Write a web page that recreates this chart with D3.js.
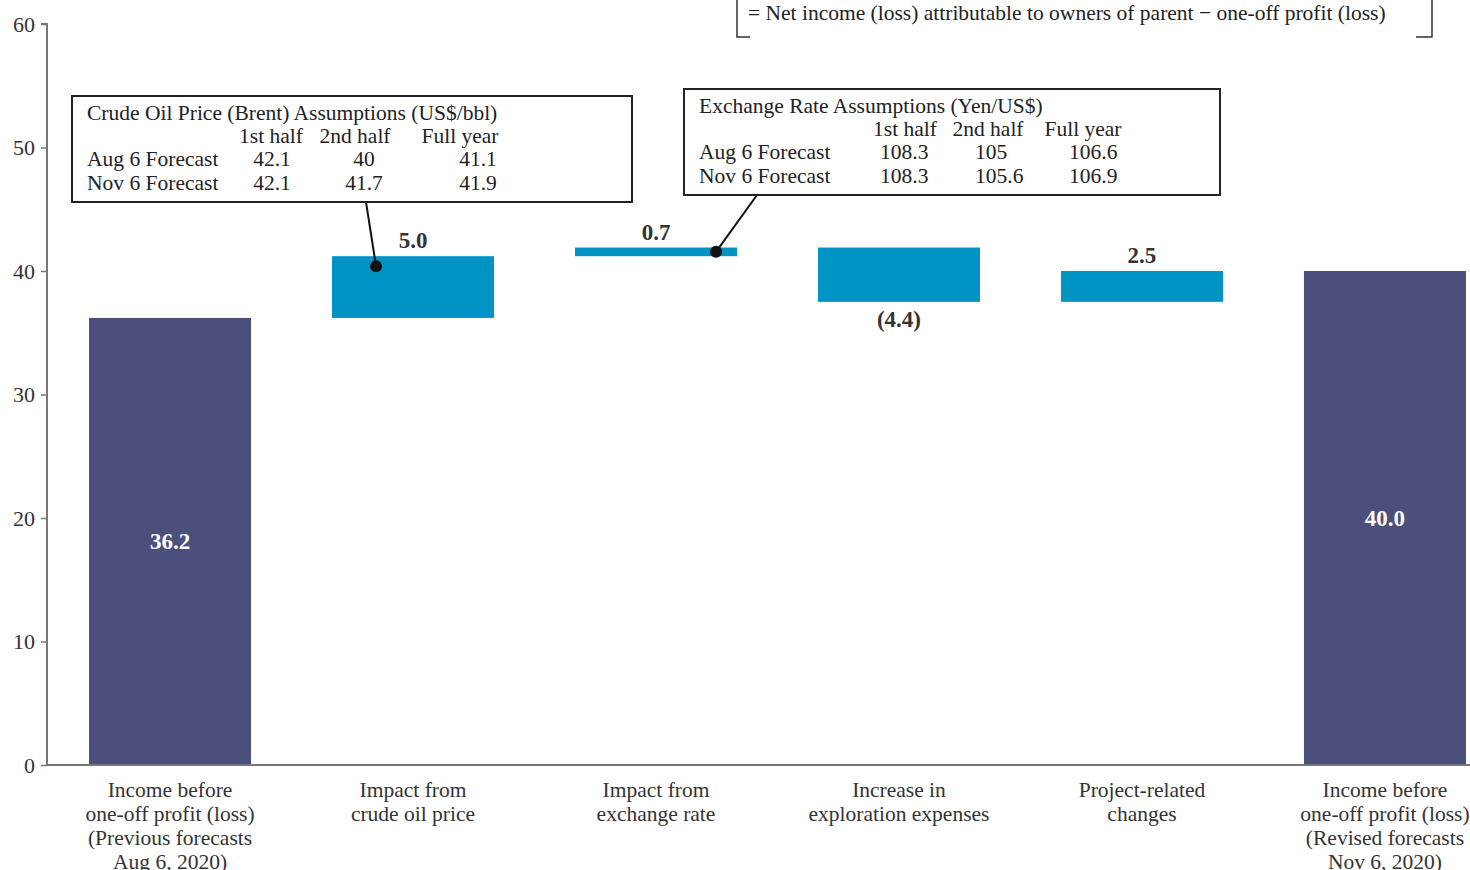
<!DOCTYPE html>
<html>
<head>
<meta charset="utf-8">
<script src="https://cdn.jsdelivr.net/npm/d3@7"></script>
<style>
  html, body { margin: 0; padding: 0; background: #fff; }
  svg { display: block; font-family: "Liberation Serif", "DejaVu Serif", serif; }
</style>
</head>
<body>
<svg id="chart" width="1470" height="870"></svg>
<script>
// Waterfall: income before one-off profit (loss), Aug 6 forecast -> Nov 6 forecast
const categories = [
  ["Income before", "one-off profit (loss)", "(Previous forecasts", "Aug 6, 2020)"],
  ["Impact from", "crude oil price"],
  ["Impact from", "exchange rate"],
  ["Increase in", "exploration expenses"],
  ["Project-related", "changes"],
  ["Income before", "one-off profit (loss)", "(Revised forecasts", "Nov 6, 2020)"]
];
const barKinds = ["total", "delta", "delta", "delta", "delta", "total"];
const values = [36.2, 5.0, 0.7, -4.4, 2.5, 40.0];
const valueLabels = ["36.2", "5.0", "0.7", "(4.4)", "2.5", "40.0"];
const yTicks = [0, 10, 20, 30, 40, 50, 60];

// Assumption tables
const oilTitle = "Crude Oil Price (Brent) Assumptions (US$/bbl)";
const periodHeaders = ["1st half", "2nd half", "Full year"];
const oilRows = ["Aug 6 Forecast", "Nov 6 Forecast"];
const oilValues = [["42.1", "40", "41.1"], ["42.1", "41.7", "41.9"]];
const fxTitle = "Exchange Rate Assumptions (Yen/US$)";
const fxRows = ["Aug 6 Forecast", "Nov 6 Forecast"];
const fxValues = [["108.3", "105", "106.6"], ["108.3", "105.6", "106.9"]];
const formulaNote = "= Net income (loss) attributable to owners of parent \u2212 one-off profit (loss)";

const svg = d3.select("#chart");
const navy = "#4a4f7c";
const blue = "#0094c4";
const textCol = "#333";
const fs = 21.5;

const y = d3.scaleLinear().domain([0, 60]).range([765, 24]);
const x = d3.scaleBand()
  .domain(d3.range(categories.length))
  .range([47, 1508])
  .paddingInner(1 / 3)
  .paddingOuter(0.173);

// running totals for the floating bars
let running = 0;
const bars = values.map((v, i) => {
  let lo, hi;
  if (barKinds[i] === "total") { lo = 0; hi = v; running = v; }
  else { lo = Math.min(running, running + v); hi = Math.max(running, running + v); running += v; }
  return { i, v, lo, hi, kind: barKinds[i], label: valueLabels[i] };
});

// bars
svg.append("g").selectAll("rect").data(bars).join("rect")
  .attr("x", d => x(d.i))
  .attr("width", x.bandwidth())
  .attr("y", d => y(d.hi))
  .attr("height", d => y(d.lo) - y(d.hi))
  .attr("fill", d => d.kind === "total" ? navy : blue);

// value labels
svg.append("g").selectAll("text").data(bars).join("text")
  .attr("x", d => x(d.i) + x.bandwidth() / 2)
  .attr("y", d => {
    if (d.kind === "total") return y(d.hi / 2) + 8;
    return d.v < 0 ? y(d.lo) + 25 : y(d.hi) - 8;
  })
  .attr("text-anchor", "middle")
  .attr("font-weight", "bold")
  .attr("font-size", 23)
  .attr("fill", d => d.kind === "total" ? "#fff" : textCol)
  .text(d => d.label);

// y axis
const yAxis = svg.append("g")
  .attr("transform", "translate(47,0)")
  .call(d3.axisLeft(y).tickValues(yTicks).tickSize(6).tickPadding(6));
yAxis.select(".domain").attr("stroke", "#777").attr("stroke-width", 2)
  .attr("d", `M-6,${y(60)}H0V${y(0)}`);
yAxis.selectAll(".tick line").attr("stroke", "#777").attr("stroke-width", 1.5);
yAxis.selectAll(".tick text").attr("font-size", 22).attr("fill", textCol)
  .attr("font-family", "Liberation Serif, serif");

// x baseline
svg.append("line")
  .attr("x1", 47).attr("x2", 1470)
  .attr("y1", y(0)).attr("y2", y(0))
  .attr("stroke", "#777").attr("stroke-width", 2);

// category labels
const catG = svg.append("g");
categories.forEach((lines, i) => {
  const t = catG.append("text")
    .attr("text-anchor", "middle")
    .attr("font-size", fs)
    .attr("fill", textCol);
  lines.forEach((ln, k) => {
    t.append("tspan")
      .attr("x", x(i) + x.bandwidth() / 2)
      .attr("y", 797 + k * 24)
      .text(ln);
  });
});

// assumption table boxes
function table(g, box, title, rows, vals, headerX, valX, valAnchor) {
  g.append("rect")
    .attr("x", box.x).attr("y", box.y).attr("width", box.w).attr("height", box.h)
    .attr("fill", "#fff").attr("stroke", "#222").attr("stroke-width", 2);
  const base = box.y + 24;
  g.append("text").attr("x", box.x + 15).attr("y", base).attr("font-size", fs)
    .attr("fill", "#222").text(title);
  periodHeaders.forEach((h, j) => {
    g.append("text").attr("x", headerX[j]).attr("y", base + 23).attr("font-size", fs)
      .attr("text-anchor", "middle").attr("fill", "#222").text(h);
  });
  rows.forEach((r, k) => {
    const yy = base + 46 + k * 24;
    g.append("text").attr("x", box.x + 15).attr("y", yy).attr("font-size", fs)
      .attr("fill", "#222").text(r);
    vals[k].forEach((v, j) => {
      g.append("text").attr("x", valX[j]).attr("y", yy).attr("font-size", fs)
        .attr("text-anchor", valAnchor).attr("fill", "#222").text(v);
    });
  });
}

const ann = svg.append("g");
// leader lines with dots, pointing at the crude oil and exchange rate bars
function leader(x1, y1, x2, y2) {
  ann.append("line").attr("x1", x1).attr("y1", y1).attr("x2", x2).attr("y2", y2)
    .attr("stroke", "#111").attr("stroke-width", 2);
  ann.append("circle").attr("cx", x2).attr("cy", y2).attr("r", 6).attr("fill", "#111");
}
const b1 = bars[1], b2 = bars[2];
leader(366, 202, x(1) + 44, y(b1.hi) + 10);
leader(757, 195, x(2) + 141, y((b2.lo + b2.hi) / 2));

table(ann, { x: 72, y: 96, w: 560, h: 106 }, oilTitle, oilRows, oilValues,
  [271, 355, 460], [272, 364, 478], "middle");
table(ann, { x: 684, y: 89, w: 536, h: 106 }, fxTitle, fxRows, fxValues,
  [905, 988, 1083], [880, 975, 1069], "start");

// formula note (top bracket)
const note = svg.append("g");
note.append("path")
  .attr("d", "M737,-2V37H750")
  .attr("fill", "none").attr("stroke", "#333").attr("stroke-width", 1.5);
note.append("path")
  .attr("d", "M1432,-2V37H1416")
  .attr("fill", "none").attr("stroke", "#333").attr("stroke-width", 1.5);
note.append("text").attr("x", 748).attr("y", 20).attr("font-size", fs)
  .attr("fill", "#222").text(formulaNote);
</script>
</body>
</html>
